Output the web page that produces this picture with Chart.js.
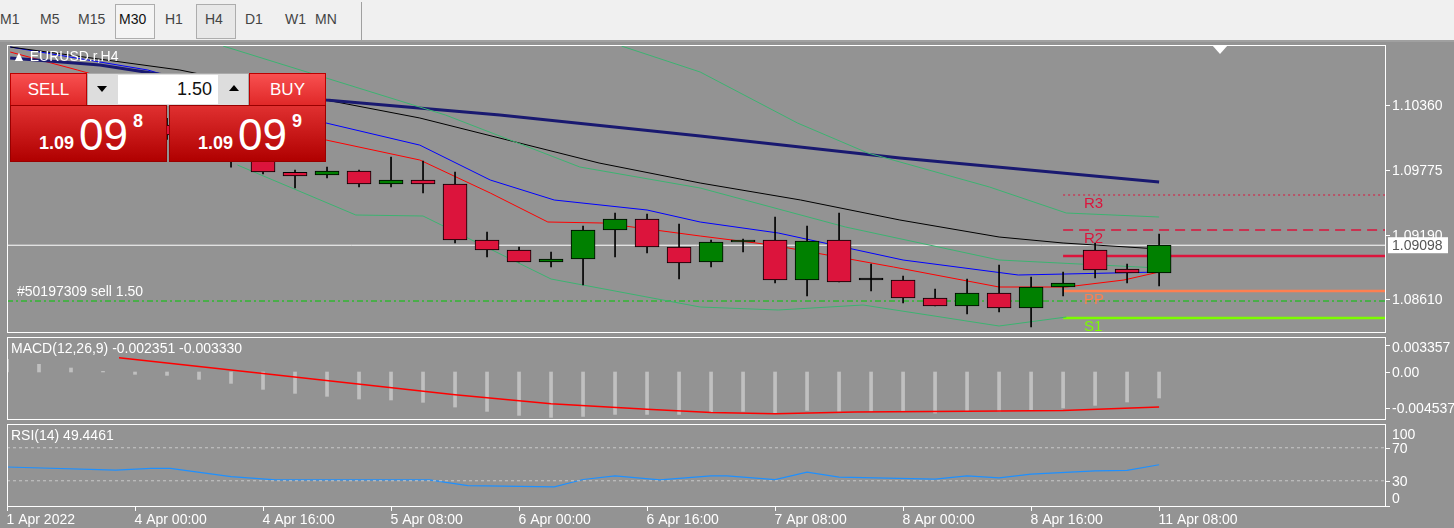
<!DOCTYPE html>
<html><head><meta charset="utf-8">
<script src="https://cdn.jsdelivr.net/npm/chart.js@4/dist/chart.umd.min.js"></script>
<style>
body{margin:0;width:1454px;height:528px;background:#939393;overflow:hidden;font-family:"Liberation Sans",Arial,sans-serif;position:relative}
#tb{position:absolute;left:0;top:0;width:1454px;height:40px;background:#f0f0f0;border-bottom:2px solid #a0a0a0}
#tb span{position:absolute;top:11px;font-size:14px;color:#444}
.box{position:absolute;top:4px;height:33px;border:1px solid #adadad;background:#f4f4f4}
.cv{position:absolute;left:0;width:1454px}
.ov{position:absolute;color:#fff;font-size:14px;white-space:nowrap;z-index:5}
.btn{position:absolute;background:linear-gradient(#f85050,#e02828);color:#fff;font-size:17px;text-align:center;line-height:31px;border:1px solid #b00;z-index:6}
.pb{position:absolute;background:linear-gradient(#e03030,#b00000);color:#fff;z-index:6;border:1px solid #900}
</style></head><body>
<div id="tb">
<span style="left:0">M1</span><span style="left:40px">M5</span><span style="left:78px">M15</span>
<div class="box" style="left:115px;width:38px"></div><span style="left:119px;color:#111">M30</span>
<span style="left:165px">H1</span>
<div class="box" style="left:196px;width:38px;background:#e8e8e8"></div><span style="left:205px">H4</span>
<span style="left:245px">D1</span><span style="left:285px">W1</span><span style="left:315px">MN</span>
<div style="position:absolute;left:361px;top:2px;width:1px;height:38px;background:#a0a0a0"></div>
</div>
<div class="cv" style="top:45px;height:288px"><canvas id="c1"></canvas></div>
<div class="cv" style="top:337px;height:83px"><canvas id="c2"></canvas></div>
<div class="cv" style="top:424px;height:104px"><canvas id="c3"></canvas></div>
<div class="ov" style="left:12px;top:48px">&#9650; EURUSD.r,H4</div>
<div style="position:absolute;left:1212px;top:45px;width:0;height:0;border-left:8px solid transparent;border-right:8px solid transparent;border-top:9px solid #fff;z-index:5"></div>
<div class="btn" style="left:10px;top:73px;width:75px;height:31px">SELL</div>
<div style="position:absolute;left:87px;top:73px;width:160px;height:31px;background:#ddd;border:1px solid #aaa;z-index:6">
 <div style="position:absolute;left:30px;top:1px;width:100px;height:29px;background:#fff;font-size:18px;text-align:right;line-height:29px;padding-right:6px;box-sizing:border-box;color:#111">1.50</div>
 <div style="position:absolute;left:9px;top:12px;border-left:5px solid transparent;border-right:5px solid transparent;border-top:6px solid #000"></div>
 <div style="position:absolute;left:141px;top:11px;border-left:5px solid transparent;border-right:5px solid transparent;border-bottom:6px solid #000"></div>
</div>
<div class="btn" style="left:249px;top:73px;width:75px;height:31px">BUY</div>
<div class="pb" style="left:10px;top:105px;width:155px;height:55px"><span style="position:absolute;left:28px;top:27px;font-size:18px;font-weight:bold">1.09</span><span style="position:absolute;left:68px;top:4px;font-size:44px">09</span><span style="position:absolute;left:122px;top:5px;font-size:18px;font-weight:bold">8</span></div>
<div class="pb" style="left:169px;top:105px;width:155px;height:55px"><span style="position:absolute;left:28px;top:27px;font-size:18px;font-weight:bold">1.09</span><span style="position:absolute;left:68px;top:4px;font-size:44px">09</span><span style="position:absolute;left:122px;top:5px;font-size:18px;font-weight:bold">9</span></div>
<div class="ov" style="left:11px;top:340px">MACD(12,26,9) -0.002351 -0.003330</div>
<div class="ov" style="left:11px;top:427px">RSI(14) 49.4461</div>
<script>
// candles, index -7 .. 28
const candleIdx = Array.from({length:36},(_,i)=>i-7);
const opens  =[1.10480,1.10420,1.10310,1.10350,1.10180,1.10090,1.10000,1.09880,1.09754,1.09730,1.09766,1.09649,1.09685,1.09649,1.09145,1.09055,1.08947,1.08974,1.09235,1.09334,1.09082,1.08947,1.09127,1.09145,1.08785,1.09145,1.08785,1.08785,1.08623,1.08551,1.08668,1.08533,1.08722,1.09055,1.08884,1.08848];
const highs  =[1.10560,1.10470,1.10400,1.10380,1.10240,1.10160,1.10060,1.09900,1.09775,1.09802,1.09775,1.09892,1.09856,1.09757,1.09217,1.09082,1.09037,1.09271,1.09388,1.09379,1.09289,1.09145,1.09154,1.09352,1.09271,1.09388,1.08929,1.08821,1.08704,1.08794,1.08920,1.08812,1.08857,1.09118,1.08929,1.09199];
const lows   =[1.10380,1.10280,1.10250,1.10150,1.10050,1.09940,1.09800,1.09740,1.09613,1.09703,1.09622,1.09622,1.09568,1.09118,1.08992,1.08947,1.08902,1.08740,1.08992,1.09028,1.08794,1.08902,1.09037,1.08758,1.08641,1.08767,1.08686,1.08578,1.08551,1.08479,1.08497,1.08362,1.08641,1.08803,1.08758,1.08731];
const closes =[1.10420,1.10310,1.10350,1.10180,1.10090,1.10000,1.09880,1.09757,1.09721,1.09766,1.09649,1.09685,1.09649,1.09145,1.09055,1.08947,1.08974,1.09235,1.09334,1.09082,1.08938,1.09127,1.09145,1.08785,1.09136,1.08767,1.08785,1.08623,1.08551,1.08668,1.08533,1.08722,1.08758,1.08875,1.08848,1.09100];
// moving averages / bands as [index, price]
const maNavy =[[-7.9,1.10783],[-5.1,1.10720],[1.97,1.10405],[7.4,1.10270],[13.66,1.10081],[19.9,1.09883],[28,1.09667]];
const maBlack=[[-7.9,1.10882],[-2.6,1.10675],[1.97,1.10405],[4.9,1.10243],[10.5,1.09838],[13.66,1.09658],[16.8,1.09505],[19.9,1.09325],[23,1.09172],[25,1.09118],[28,1.09064]];
const maBlue =[[-7.9,1.10882],[-3.6,1.10675],[1.97,1.10198],[4.9,1.09999],[7.1,1.09685],[9.1,1.09505],[12,1.09415],[13.66,1.09307],[16.1,1.09208],[20,1.08965],[23.6,1.08830],[28,1.08857]];
const maRed  =[[-7.9,1.10837],[-5.8,1.10675],[1.97,1.10045],[4.9,1.09865],[7.1,1.09568],[8.9,1.09307],[10.6,1.09298],[13.66,1.09181],[15.9,1.09100],[19.7,1.08902],[23,1.08722],[25.1,1.08722],[26.9,1.08785],[28,1.08857]];
const bandMid=[[-1.25,1.10891],[5.7,1.10270],[9.9,1.09802],[13.66,1.09613],[18.2,1.09262],[23,1.08965],[28,1.08893]];
const bandUp =[[11.2,1.10891],[13.66,1.10657],[16.7,1.10198],[18.9,1.09928],[22.7,1.09622],[25.1,1.09388],[28,1.09352]];
const bandLow=[[-0.8,1.09820],[2.9,1.09370],[5,1.09361],[9,1.08794],[13.66,1.08542],[16.1,1.08515],[18.75,1.08560],[23,1.08371],[25.1,1.08452]];
const pivots ={R3:1.09550,R2:1.09235,R1:1.09001,PP:1.08686,S1:1.08443};
const bidPrice=1.09098, orderPrice=1.08596;
const priceTicks=[1.10360,1.09775,1.09190,1.08610];
// MACD, index -8..28
const macdHist=[0.00158,0.00096,0.0005,0.00008,-0.00029,-0.00042,-0.00092,-0.00142,-0.00217,-0.00267,-0.00304,-0.00338,-0.0035,-0.00379,-0.00438,-0.00492,-0.00542,-0.00567,-0.00555,-0.0053,-0.0053,-0.0053,-0.00509,-0.00492,-0.00513,-0.0048,-0.00492,-0.00492,-0.00492,-0.00513,-0.00492,-0.00492,-0.0048,-0.0045,-0.00417,-0.00375,-0.00325];
const macdSignal=[[-4.5,0.00179],[0,-0.0002],[6,-0.00284],[9,-0.00396],[12,-0.00467],[14,-0.00505],[16,-0.00521],[18.5,-0.0050],[22,-0.00492],[25,-0.0048],[26.5,-0.00459],[28,-0.00438]];
const macdTicks=[0.003357,0,-0.004537], macdTickLabels=['0.003357','0.00','-0.004537'];
const rsiLine=[[-8,46.7],[-4.6,43],[-3.5,45],[-2.9,45],[-1,35],[0.4,31],[5.2,31],[6.4,24],[9.1,22.5],[10,31.5],[11,36],[12.4,31],[14,36],[14.5,36],[16,31.5],[17,40.5],[18,34.5],[21,32],[22,36],[23,33.5],[24,38],[26,42],[27,42.5],[28,49.4]];
const rsiTicks=[100,70,30,0];
const timeTicks=[-8,-4,0,4,8,12,16,20,24,28];
const timeLabels=['1 Apr 2022','4 Apr 00:00','4 Apr 16:00','5 Apr 08:00','6 Apr 00:00','6 Apr 16:00','7 Apr 08:00','8 Apr 00:00','8 Apr 16:00','11 Apr 08:00'];

const XMIN=-8, XMAX=35.09, PR_END=35.09;
const FONT='14px "Liberation Sans", Arial, sans-serif';
const xs={type:'linear',min:XMIN,max:XMAX,display:false,offset:false};
const ys=(min,max)=>({position:'right',min,max,afterFit:s=>{s.width=68},ticks:{display:false},grid:{display:false},border:{display:false}});
const pts=a=>a.map(p=>({x:p[0],y:p[1]}));
const line=(data,color,w,extra)=>Object.assign({type:'line',data,borderColor:color,borderWidth:w,pointRadius:0,tension:0,fill:false},extra||{});
const hline=(x0,x1,v,color,w,dash)=>line([{x:x0,y:v},{x:x1,y:v}],color,w,{borderDash:dash||[]});
const base={responsive:true,maintainAspectRatio:false,animation:false,events:[],layout:{padding:{left:7,right:0,top:0,bottom:0}},plugins:{legend:{display:false},tooltip:{enabled:false}}};
function frame(ch){const a=ch.chartArea,c=ch.ctx;c.save();c.strokeStyle='#ffffff';c.lineWidth=1;c.strokeRect(a.left+0.5,a.top+0.5,a.right-a.left-1,a.bottom-a.top-1);c.restore();}
function rightTicks(ch,vals,labels){const c=ch.ctx,s=ch.scales.y,a=ch.chartArea;c.save();c.font=FONT;c.fillStyle='#fff';c.strokeStyle='#fff';c.textBaseline='middle';
 vals.forEach((v,i)=>{const y=Math.round(s.getPixelForValue(v))+0.5;c.beginPath();c.moveTo(a.right,y);c.lineTo(a.right+4,y);c.stroke();
 const ly=Math.min(Math.max(y,a.top+10),a.bottom-9);c.fillText(labels[i],a.right+6,ly+1);});c.restore();}

const colors=opens.map((o,i)=>closes[i]>o?'#008000':closes[i]<o?'#dc143c':'#000');
new Chart(document.getElementById('c1'),{data:{datasets:[
 line(pts(bandUp),'#3cb371',1),line(pts(bandMid),'#3cb371',1),line(pts(bandLow),'#3cb371',1),
 line(pts(maNavy),'#191970',3),line(pts(maBlack),'#000',1),line(pts(maBlue),'#0000ff',1),line(pts(maRed),'#ff0000',1),
 hline(XMIN,PR_END,bidPrice,'#ffffff',1),
 hline(XMIN,PR_END,orderPrice,'#00c800',1,[6,3,2,3]),
 hline(25,PR_END,pivots.R3,'#dc143c',1,[2,3]),hline(25,PR_END,pivots.R2,'#dc143c',1.5,[10,6]),
 hline(25,PR_END,pivots.R1,'#dc143c',2.5),hline(25,PR_END,pivots.PP,'#ff7f50',2.5),hline(25,PR_END,pivots.S1,'#7cfc00',2.5),
 {type:'bar',grouped:false,data:candleIdx.map((x,i)=>({x,y:[lows[i],highs[i]]})),backgroundColor:'#000',barThickness:1,order:-1},
 {type:'bar',grouped:false,data:candleIdx.map((x,i)=>({x,y:[opens[i],closes[i]]})),backgroundColor:colors,borderColor:'#000',borderWidth:1,borderSkipped:false,barThickness:24,minBarLength:2,order:-2}
]},options:Object.assign({},base,{scales:{x:xs,y:ys(1.08308,1.10900)}}),
plugins:[{id:'d1',afterDraw(ch){frame(ch);rightTicks(ch,priceTicks,priceTicks.map(v=>v.toFixed(5)));
 const c=ch.ctx,s=ch.scales.y,xsc=ch.scales.x;c.save();c.font=FONT;
 const yb=s.getPixelForValue(bidPrice);c.fillStyle='#fff';c.fillRect(1388,yb-8,60,16);c.fillStyle='#555';c.textBaseline='middle';c.fillText(bidPrice.toFixed(5),1392,yb+1);
 c.font='15px "Liberation Sans", Arial, sans-serif';const lx=xsc.getPixelForValue(25.65);
 [['R3','#dc143c'],['R2','#dc143c'],['PP','#ff7f50'],['S1','#7cfc00']].forEach(([k,col])=>{c.fillStyle=col;c.textBaseline='top';c.fillText(k,lx,s.getPixelForValue(pivots[k])+1);});
 c.font=FONT;c.fillStyle='#fff';c.textBaseline='bottom';c.fillText('#50197309 sell 1.50',17,s.getPixelForValue(orderPrice)-2);c.restore();}}]});

new Chart(document.getElementById('c2'),{data:{datasets:[
 {type:'bar',data:macdHist.map((v,i)=>({x:i-8,y:v})),backgroundColor:'#c0c0c0',barThickness:3},
 line(pts(macdSignal),'#ff0000',1.5,{order:-1})
]},options:Object.assign({},base,{scales:{x:xs,y:ys(-0.006,0.004375)}}),
plugins:[{id:'d2',afterDraw(ch){frame(ch);rightTicks(ch,macdTicks,macdTickLabels);}}]});

new Chart(document.getElementById('c3'),{data:{datasets:[
 hline(XMIN,XMAX,70,'#c8c8c8',1,[3,3]),hline(XMIN,XMAX,30,'#c8c8c8',1,[3,3]),
 line(pts(rsiLine),'#1e90ff',1.2)
]},options:Object.assign({},base,{layout:{padding:{left:7,right:0,top:0,bottom:21}},scales:{x:xs,y:ys(-1.8,98.8)}}),
plugins:[{id:'d3',afterDraw(ch){frame(ch);rightTicks(ch,rsiTicks,rsiTicks.map(String));
 const c=ch.ctx,xsc=ch.scales.x,a=ch.chartArea;c.save();c.font=FONT;c.fillStyle='#fff';c.strokeStyle='#fff';c.textBaseline='middle';
 timeTicks.forEach((t,i)=>{const x=Math.round(xsc.getPixelForValue(t))+0.5;c.beginPath();c.moveTo(x,a.bottom);c.lineTo(x,a.bottom+4);c.stroke();c.fillText(timeLabels[i],x-1,a.bottom+13);});c.restore();}}]});
</script></body></html>
